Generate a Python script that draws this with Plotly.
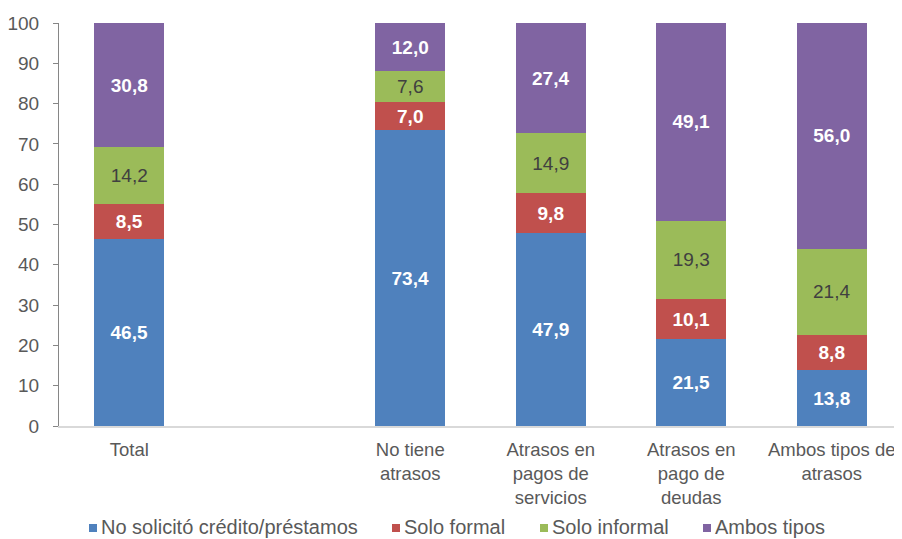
import plotly.graph_objects as go

categories = ["Total", " ", "No tiene<br>atrasos", "Atrasos en<br>pagos de<br>servicios",
              "Atrasos en<br>pago de<br>deudas", "Ambos tipos de<br>atrasos"]
no_solicito = [46.5, None, 73.4, 47.9, 21.5, 13.8]
solo_formal = [8.5, None, 7.0, 9.8, 10.1, 8.8]
solo_informal = [14.2, None, 7.6, 14.9, 19.3, 21.4]
ambos_tipos = [30.8, None, 12.0, 27.4, 49.1, 56.0]
series_names = ["No solicitó crédito/préstamos", "Solo formal", "Solo informal", "Ambos tipos"]

FONT = "Liberation Sans, Arial, sans-serif"
colors = ["#4F81BD", "#C0504D", "#9BBB59", "#8064A2"]
text_colors = ["white", "white", "#404040", "white"]
weights = ["bold", "bold", "normal", "bold"]

# the page body has an 8px default margin; size the figure so the viewport matches
OFF = 8
W, H = 902 - OFF, 539 - OFF
L, R, T, B = 59 - OFF, 0, 23 - OFF, 539 - 426
PW, PH = W - L - R, H - T - B

fig = go.Figure()
for name, vals, color, tcolor, weight in zip(series_names,
                                             [no_solicito, solo_formal, solo_informal, ambos_tipos],
                                             colors, text_colors, weights):
    fig.add_trace(go.Bar(
        x=categories, y=vals, name=name, showlegend=False,
        marker=dict(color=color, line=dict(width=0)),
        texttemplate="%{y:.1f}", textposition="inside", insidetextanchor="middle",
        textangle=0, constraintext="none", hoverinfo="skip",
        textfont=dict(family=FONT, size=19, color=tcolor, weight=weight),
    ))

# manual legend (viewport pixel layout converted to paper coords)
leg_sq_x = [89, 392, 540, 703]
leg_y_top, leg_y_bot, leg_y_mid = 524, 532, 527
def px_x(p):
    return (p - OFF - L) / PW
def px_y(p):
    return (H - B - (p - OFF)) / PH
shapes, annots = [], []
for sx, color, name in zip(leg_sq_x, colors, series_names):
    shapes.append(dict(type="rect", xref="paper", yref="paper",
                       x0=px_x(sx), x1=px_x(sx + 8), y0=px_y(leg_y_bot), y1=px_y(leg_y_top),
                       fillcolor=color, line=dict(width=0)))
    annots.append(dict(text=name, xref="paper", yref="paper", x=px_x(sx + 10), y=px_y(leg_y_mid),
                       xanchor="left", yanchor="middle", showarrow=False,
                       font=dict(family=FONT, size=20, color="#595959")))

fig.update_layout(
    barmode="stack", bargap=0.5,
    width=W, height=H,
    margin=dict(l=L, r=R, t=T, b=B, autoexpand=False),
    plot_bgcolor="white", paper_bgcolor="white",
    separators=",.",
    font=dict(family=FONT, size=19, color="#595959"),
    showlegend=False,
    shapes=shapes, annotations=annots,
    xaxis=dict(type="category", categoryorder="array", categoryarray=categories,
               showline=True, linecolor="#D9D9D9", linewidth=2, ticks="",
               tickfont=dict(family=FONT, size=18.5, color="#595959"), showgrid=False,
               automargin=False, ticklabelstandoff=6),
    yaxis=dict(range=[0, 100], dtick=10, showline=True, linecolor="#868686",
               linewidth=1, ticks="outside", ticklen=5, tickcolor="#868686",
               showgrid=False, zeroline=False, automargin=False, ticklabelstandoff=10,
               tickfont=dict(family=FONT, size=19, color="#595959")),
    yaxis2=dict(overlaying="y", side="left", anchor="x", range=[0, 100], dtick=10,
                ticks="inside", ticklen=5, tickcolor="#868686", showticklabels=False,
                showline=False, showgrid=False, zeroline=False, automargin=False),
)

fig.write_html("out.html")
